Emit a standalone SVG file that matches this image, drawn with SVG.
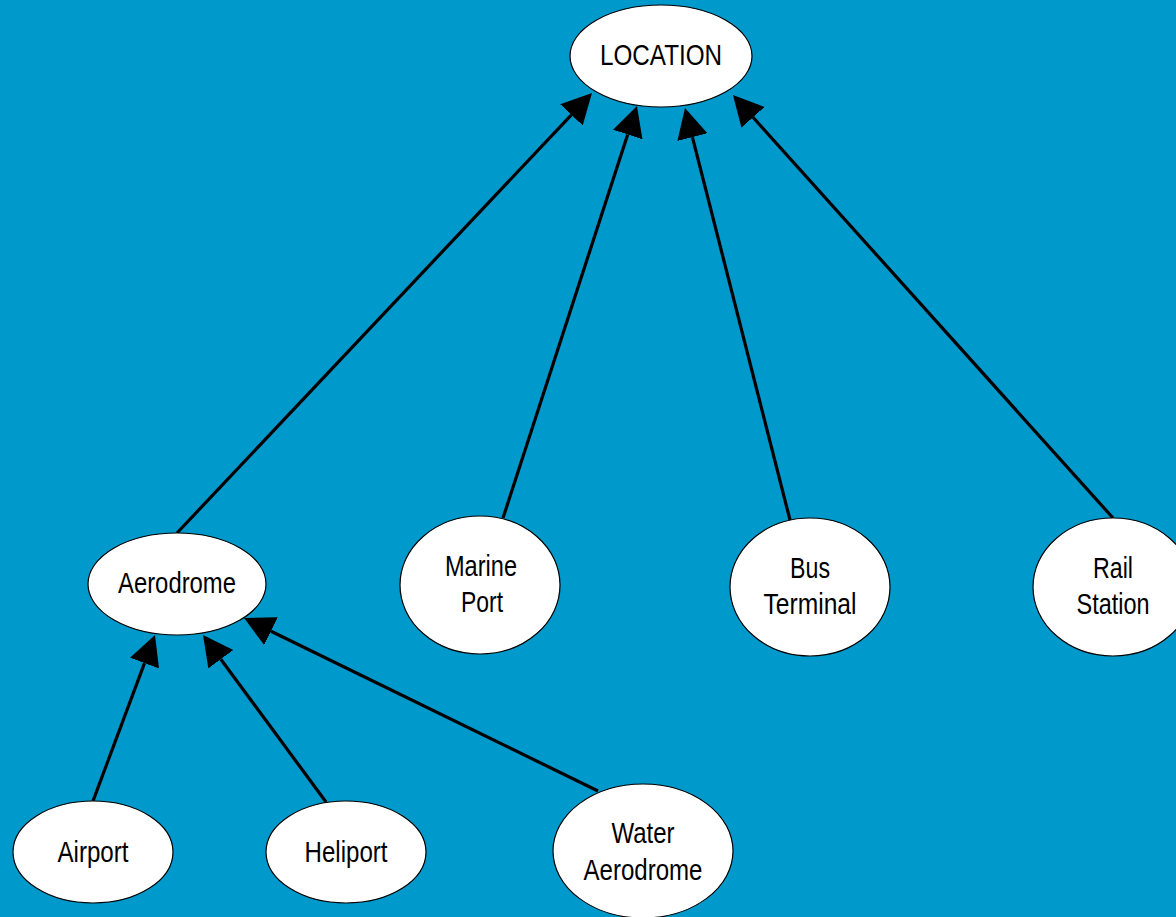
<svg xmlns="http://www.w3.org/2000/svg" width="1176" height="917" viewBox="0 0 1176 917">
<defs>
<style>
.node ellipse{fill:#ffffff;stroke:#000000;stroke-width:1.2}
.node text{font-family:"Liberation Sans",Arial,sans-serif;font-size:30px;fill:#000000;text-anchor:middle}
.edge{stroke:#000000;stroke-width:3.2;fill:none;marker-end:url(#arrow)}
</style>
<marker id="arrow" markerUnits="userSpaceOnUse" markerWidth="32" markerHeight="32" refX="0" refY="15.5" orient="auto">
<path d="M0,0 L30,15.5 L0,31 z" fill="#000000"/>
</marker>
</defs>
<rect x="0" y="0" width="1176" height="917" fill="#0099CC"/>
<g id="connectors">
<line class="edge" x1="177" y1="533" x2="571.4" y2="114.8"/>
<line class="edge" x1="503" y1="518" x2="627.7" y2="134.5"/>
<line class="edge" x1="790" y1="520" x2="692.4" y2="137.1"/>
<line class="edge" x1="1113" y1="518" x2="753" y2="117.3"/>
<line class="edge" x1="93" y1="801" x2="144.5" y2="663.1"/>
<line class="edge" x1="326" y1="802" x2="220.8" y2="659.2"/>
<line class="edge" x1="598" y1="791" x2="271" y2="631.2"/>
</g>
<g id="location" class="node">
<ellipse cx="661" cy="56" rx="91" ry="51"/>
<text x="661" y="65" textLength="122" lengthAdjust="spacingAndGlyphs">LOCATION</text>
</g>
<g id="aerodrome" class="node">
<ellipse cx="177" cy="584" rx="89" ry="51"/>
<text x="177" y="593" textLength="118" lengthAdjust="spacingAndGlyphs">Aerodrome</text>
</g>
<g id="marine-port" class="node">
<ellipse cx="480" cy="585" rx="80" ry="69"/>
<text x="481" y="576" textLength="72" lengthAdjust="spacingAndGlyphs">Marine</text>
<text x="482" y="612" textLength="42" lengthAdjust="spacingAndGlyphs">Port</text>
</g>
<g id="bus-terminal" class="node">
<ellipse cx="810" cy="587" rx="80" ry="69"/>
<text x="810" y="578" textLength="40" lengthAdjust="spacingAndGlyphs">Bus</text>
<text x="810" y="614" textLength="93" lengthAdjust="spacingAndGlyphs">Terminal</text>
</g>
<g id="rail-station" class="node">
<ellipse cx="1113" cy="587" rx="80" ry="69"/>
<text x="1113" y="578" textLength="40" lengthAdjust="spacingAndGlyphs">Rail</text>
<text x="1113" y="614" textLength="73" lengthAdjust="spacingAndGlyphs">Station</text>
</g>
<g id="airport" class="node">
<ellipse cx="93" cy="852" rx="80" ry="51"/>
<text x="93" y="862" textLength="71" lengthAdjust="spacingAndGlyphs">Airport</text>
</g>
<g id="heliport" class="node">
<ellipse cx="346" cy="852" rx="80" ry="51"/>
<text x="346" y="862" textLength="83" lengthAdjust="spacingAndGlyphs">Heliport</text>
</g>
<g id="water-aerodrome" class="node">
<ellipse cx="643" cy="851" rx="90" ry="67"/>
<text x="643" y="843" textLength="63" lengthAdjust="spacingAndGlyphs">Water</text>
<text x="643" y="880" textLength="119" lengthAdjust="spacingAndGlyphs">Aerodrome</text>
</g>
</svg>
